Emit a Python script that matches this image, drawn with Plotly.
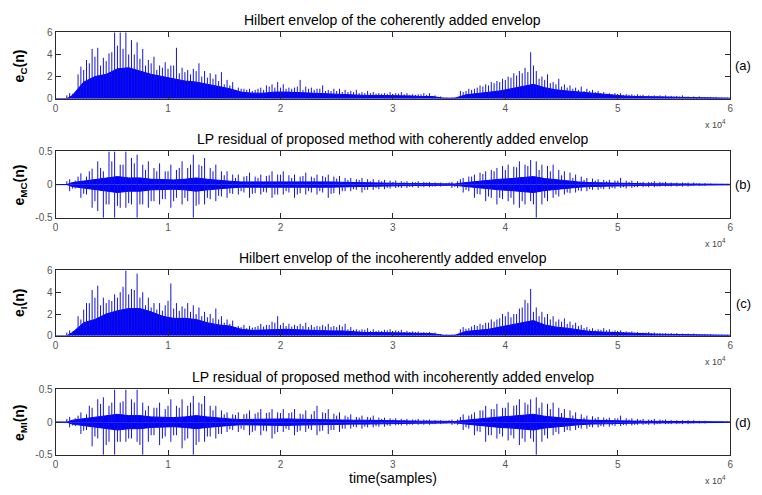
import plotly.graph_objects as go
import numpy as np

# ---------------- data ----------------
# sample axis: one body value per 1000 samples, two main + two secondary spikes per 1000 samples
N_SAMPLES = 60000
body_t = np.arange(500, 60000, 1000)          # centres of 1000-sample blocks
spike_t = np.arange(250, 60000, 500)          # main spikes
sec_t = np.arange(0, 60000, 500)              # secondary spikes

# (a) Hilbert envelope, coherent
peak_a = [0, 0, 0.5, 0.6, 2.9, 3.5, 4.5, 4.6, 3.7, 4.1, 6.0, 6.0, 6.0, 5.3, 5.1, 4.5,
          3.5, 3.8, 3.0, 3.3, 3.0, 4.6, 2.8, 2.6, 2.7, 3.2, 2.5, 2.3, 2.2, 2.4, 1.7, 1.5,
          1.0, 0.9, 0.9, 0.8, 1.0, 1.2, 1.3, 1.5, 1.3, 1.0, 1.0, 1.7, 1.1, 1.0, 0.9, 1.2,
          0.8, 0.9, 0.9, 0.8, 0.7, 0.8, 0.6, 0.7, 0.6, 0.5, 0.5, 0.6, 0.5, 0.6, 0.5, 0.4,
          0.4, 0.5, 0.5, 0.3, 0.2, 0.1, 0.1, 0.1, 0.6, 0.9, 0.9, 1.2, 1.3, 1.5, 1.6, 1.8,
          2.0, 2.3, 2.5, 2.8, 4.2, 2.5, 2.0, 2.2, 1.5, 1.8, 1.3, 1.2, 1.0, 1.1, 0.9, 0.8,
          0.7, 0.6, 0.5, 0.5, 0.5, 0.4, 0.4, 0.4, 0.35, 0.3, 0.3, 0.3, 0.3, 0.25, 0.25, 0.3,
          0.2, 0.2, 0.2, 0.15, 0.15, 0.15, 0.1, 0.1]
sec_a = [0, 0, 0.3, 0.45, 2.2, 2.6, 3.2, 3.8, 3.0, 3.4, 4.2, 4.8, 4.5, 4.0, 4.0, 3.6,
         3.0, 3.2, 2.6, 2.8, 2.7, 3.0, 2.3, 2.4, 2.2, 2.5, 2.0, 1.9, 1.8, 1.6, 1.3, 1.2,
         0.8, 0.9, 0.8, 0.7, 0.9, 0.8, 1.1, 1.0, 1.0, 0.9, 0.9, 1.1, 0.8, 0.9, 0.8, 0.9,
         0.7, 0.7, 0.7, 0.6, 0.6, 0.6, 0.5, 0.5, 0.5, 0.45, 0.45, 0.45, 0.4, 0.45, 0.4, 0.35,
         0.35, 0.4, 0.35, 0.25, 0.1, 0.1, 0.05, 0.1, 0.7, 0.7, 0.8, 1.0, 1.1, 1.2, 1.4, 1.5,
         1.7, 1.9, 2.1, 2.3, 2.4, 3.0, 1.8, 1.7, 1.4, 1.3, 1.1, 1.0, 0.9, 0.8, 0.7, 0.7,
         0.6, 0.5, 0.45, 0.4, 0.4, 0.35, 0.35, 0.3, 0.3, 0.25, 0.25, 0.25, 0.22, 0.2, 0.2, 0.2,
         0.18, 0.15, 0.15, 0.12, 0.12, 0.1, 0.08, 0.08]
body_a = [0, 0.3, 1.5, 2.0, 2.2, 2.7, 2.8, 2.5, 2.2, 2.0, 1.8, 1.6, 1.5, 1.3, 1.1, 0.9,
          0.6, 0.5, 0.5, 0.6, 0.6, 0.55, 0.5, 0.45, 0.4, 0.4, 0.35, 0.3, 0.3, 0.3, 0.25, 0.25,
          0.2, 0.2, 0.05, 0.05, 0.35, 0.45, 0.6, 0.7, 0.9, 1.1, 1.3, 1.0, 0.8, 0.7, 0.6, 0.5,
          0.4, 0.3, 0.25, 0.2, 0.2, 0.15, 0.15, 0.12, 0.1, 0.1, 0.08, 0.05]

# (b) LP residual, coherent
pos_b = [0, 0, 0.08, 0.06, 0.17, 0.12, 0.24, 0.35, 0.2, 0.5, 0.5, 0.3, 0.5, 0.4, 0.45, 0.3,
         0.35, 0.25, 0.32, 0.2, 0.3, 0.22, 0.35, 0.25, 0.45, 0.3, 0.4, 0.25, 0.3, 0.2, 0.2, 0.15,
         0.15, 0.12, 0.18, 0.12, 0.15, 0.13, 0.2, 0.15, 0.2, 0.14, 0.15, 0.12, 0.18, 0.12, 0.15, 0.13,
         0.15, 0.12, 0.13, 0.1, 0.1, 0.08, 0.1, 0.08, 0.08, 0.07, 0.07, 0.06, 0.06, 0.05, 0.05, 0.04,
         0.05, 0.04, 0.04, 0.03, 0.03, 0.02, 0.04, 0.05, 0.1, 0.12, 0.15, 0.18, 0.2, 0.22, 0.25, 0.28,
         0.3, 0.27, 0.35, 0.3, 0.37, 0.35, 0.3, 0.28, 0.3, 0.22, 0.2, 0.18, 0.15, 0.12, 0.1, 0.09,
         0.08, 0.07, 0.07, 0.06, 0.1, 0.06, 0.06, 0.05, 0.04, 0.04, 0.05, 0.04, 0.04, 0.03, 0.03, 0.03,
         0.03, 0.03, 0.02, 0.02, 0.015, 0.01, 0.01, 0.01]
neg_b = [0, 0, -0.1, -0.06, -0.2, -0.15, -0.35, -0.4, -0.5, -0.3, -0.5, -0.35, -0.35, -0.3, -0.5, -0.3,
         -0.35, -0.25, -0.3, -0.22, -0.35, -0.2, -0.3, -0.25, -0.5, -0.3, -0.3, -0.22, -0.25, -0.18, -0.2, -0.14,
         -0.15, -0.12, -0.2, -0.13, -0.15, -0.12, -0.2, -0.15, -0.15, -0.12, -0.2, -0.13, -0.15, -0.12, -0.15, -0.12,
         -0.2, -0.13, -0.15, -0.1, -0.1, -0.08, -0.12, -0.08, -0.08, -0.07, -0.07, -0.06, -0.05, -0.05, -0.05, -0.04,
         -0.05, -0.04, -0.04, -0.03, -0.03, -0.02, -0.05, -0.05, -0.12, -0.1, -0.2, -0.15, -0.25, -0.2, -0.3, -0.22,
         -0.25, -0.3, -0.35, -0.3, -0.25, -0.5, -0.3, -0.25, -0.2, -0.18, -0.15, -0.13, -0.12, -0.1, -0.1, -0.08,
         -0.08, -0.07, -0.07, -0.06, -0.05, -0.06, -0.05, -0.04, -0.04, -0.04, -0.04, -0.03, -0.03, -0.03, -0.03, -0.03,
         -0.03, -0.02, -0.02, -0.02, -0.01, -0.01, -0.01, -0.01]
sec_b = [0, 0, 0.05, -0.06, 0.12, -0.14, 0.2, -0.25, 0.25, -0.3, 0.35, -0.32, 0.3, -0.28, 0.32, -0.3,
         0.22, -0.25, 0.2, -0.22, 0.2, -0.25, 0.25, -0.2, 0.3, -0.32, 0.28, -0.2, 0.2, -0.17, 0.14, -0.13,
         0.1, -0.1, 0.13, -0.14, 0.1, -0.11, 0.14, -0.15, 0.15, -0.1, 0.1, -0.15, 0.13, -0.1, 0.1, -0.1,
         0.11, -0.14, 0.09, -0.1, 0.07, -0.07, 0.07, -0.08, 0.05, -0.05, 0.05, -0.05, 0.04, -0.04, 0.035, -0.035,
         0.035, -0.03, 0.03, -0.03, 0.02, -0.02, 0.03, -0.035, 0.08, -0.08, 0.12, -0.14, 0.16, -0.18, 0.2, -0.2,
         0.22, -0.2, 0.26, -0.25, 0.28, -0.3, 0.22, -0.2, 0.2, -0.15, 0.14, -0.12, 0.1, -0.09, 0.07, -0.07,
         0.06, -0.06, 0.05, -0.05, 0.06, -0.04, 0.04, -0.04, 0.03, -0.03, 0.035, -0.03, 0.03, -0.025, 0.02, -0.02,
         0.02, -0.02, 0.015, -0.015, 0.01, -0.01, 0.008, -0.008]
body_b = [0, 0.03, 0.05, 0.07, 0.1, 0.12, 0.1, 0.1, 0.08, 0.07, 0.07, 0.08, 0.1, 0.08, 0.06, 0.05,
          0.04, 0.04, 0.04, 0.05, 0.05, 0.04, 0.04, 0.04, 0.04, 0.035, 0.03, 0.03, 0.025, 0.02, 0.02, 0.015,
          0.015, 0.015, 0.01, 0.01, 0.03, 0.05, 0.06, 0.08, 0.09, 0.1, 0.12, 0.09, 0.07, 0.05, 0.04, 0.03,
          0.025, 0.02, 0.02, 0.015, 0.012, 0.012, 0.01, 0.008, 0.008, 0.006, 0.005, 0.004]

# (c) Hilbert envelope, incoherent
peak_c = [0, 0, 0.5, 0.4, 1.5, 3.0, 4.2, 4.6, 3.5, 3.3, 3.8, 4.0, 6.0, 4.3, 5.7, 4.0,
          3.5, 3.0, 3.0, 2.8, 4.8, 3.0, 2.7, 3.0, 2.8, 2.6, 2.2, 2.0, 2.5, 1.8, 1.5, 1.4,
          0.9, 1.0, 0.9, 0.8, 1.1, 1.0, 1.3, 1.8, 1.2, 1.1, 1.0, 1.1, 1.2, 1.0, 0.9, 1.0,
          1.1, 0.9, 1.0, 1.1, 0.8, 0.6, 0.6, 0.7, 0.6, 0.5, 0.55, 0.6, 0.5, 0.55, 0.45, 0.4,
          0.4, 0.35, 0.35, 0.3, 0.15, 0.1, 0.1, 0.1, 0.8, 0.7, 1.0, 1.1, 1.2, 1.5, 1.5, 2.0,
          2.2, 2.0, 2.5, 3.3, 4.3, 2.6, 2.2, 2.0, 1.8, 1.5, 1.6, 1.3, 1.2, 1.0, 0.8, 0.7,
          0.6, 0.7, 0.6, 0.5, 0.5, 0.4, 0.4, 0.35, 0.3, 0.35, 0.3, 0.25, 0.25, 0.25, 0.25, 0.2,
          0.2, 0.2, 0.15, 0.15, 0.15, 0.1, 0.1, 0.1]
sec_c = [0, 0, 0.3, 0.4, 1.8, 2.4, 3.0, 3.5, 2.8, 3.0, 3.2, 3.5, 4.5, 3.8, 4.2, 3.5,
         2.8, 2.6, 2.4, 2.3, 3.2, 2.5, 2.3, 2.5, 2.2, 2.0, 1.8, 1.7, 1.6, 1.5, 1.2, 1.1,
         0.8, 0.8, 0.7, 0.75, 0.9, 0.85, 1.0, 1.2, 1.0, 0.9, 0.85, 0.9, 0.9, 0.8, 0.8, 0.85,
         0.85, 0.8, 0.8, 0.85, 0.6, 0.55, 0.5, 0.55, 0.45, 0.45, 0.45, 0.5, 0.4, 0.45, 0.35, 0.35,
         0.35, 0.3, 0.3, 0.25, 0.1, 0.08, 0.08, 0.1, 0.6, 0.65, 0.85, 0.9, 1.0, 1.2, 1.3, 1.6,
         1.8, 1.7, 2.0, 2.6, 3.0, 2.2, 1.8, 1.7, 1.5, 1.3, 1.3, 1.1, 1.0, 0.9, 0.7, 0.6,
         0.5, 0.55, 0.5, 0.4, 0.4, 0.35, 0.35, 0.3, 0.28, 0.3, 0.25, 0.22, 0.22, 0.2, 0.2, 0.18,
         0.17, 0.16, 0.13, 0.12, 0.12, 0.09, 0.08, 0.08]
body_c = [0, 0.3, 1.2, 1.5, 2.0, 2.3, 2.5, 2.5, 2.2, 1.8, 1.6, 1.6, 1.5, 1.2, 1.0, 0.9,
          0.6, 0.5, 0.55, 0.6, 0.6, 0.55, 0.5, 0.45, 0.45, 0.45, 0.35, 0.3, 0.3, 0.3, 0.28, 0.25,
          0.22, 0.2, 0.05, 0.05, 0.4, 0.5, 0.6, 0.8, 1.0, 1.2, 1.4, 1.0, 0.8, 0.7, 0.55, 0.4,
          0.35, 0.3, 0.25, 0.2, 0.18, 0.15, 0.13, 0.12, 0.1, 0.08, 0.07, 0.05]

# (d) LP residual, incoherent
pos_d = [0, 0, 0.08, 0.06, 0.15, 0.12, 0.22, 0.35, 0.38, 0.25, 0.5, 0.3, 0.5, 0.35, 0.5, 0.3,
         0.25, 0.22, 0.3, 0.2, 0.35, 0.25, 0.35, 0.25, 0.4, 0.3, 0.4, 0.25, 0.25, 0.18, 0.15, 0.12,
         0.15, 0.12, 0.18, 0.13, 0.2, 0.14, 0.2, 0.15, 0.2, 0.14, 0.2, 0.13, 0.18, 0.12, 0.25, 0.15,
         0.2, 0.13, 0.15, 0.1, 0.12, 0.08, 0.1, 0.08, 0.1, 0.07, 0.07, 0.06, 0.06, 0.05, 0.05, 0.04,
         0.05, 0.04, 0.04, 0.03, 0.03, 0.02, 0.04, 0.04, 0.12, 0.1, 0.15, 0.18, 0.25, 0.2, 0.28, 0.22,
         0.3, 0.25, 0.35, 0.3, 0.35, 0.38, 0.3, 0.28, 0.3, 0.22, 0.2, 0.18, 0.15, 0.12, 0.1, 0.09,
         0.08, 0.07, 0.07, 0.06, 0.1, 0.06, 0.06, 0.05, 0.05, 0.04, 0.05, 0.04, 0.04, 0.03, 0.03, 0.03,
         0.03, 0.03, 0.02, 0.02, 0.01, 0.01, 0.01, 0.01]
neg_d = [0, 0, -0.08, -0.06, -0.18, -0.12, -0.37, -0.25, -0.5, -0.3, -0.5, -0.3, -0.3, -0.25, -0.3, -0.5,
         -0.3, -0.2, -0.35, -0.22, -0.3, -0.2, -0.4, -0.25, -0.5, -0.3, -0.3, -0.22, -0.25, -0.18, -0.15, -0.12,
         -0.15, -0.12, -0.2, -0.13, -0.2, -0.14, -0.25, -0.15, -0.15, -0.12, -0.2, -0.13, -0.15, -0.12, -0.2, -0.13,
         -0.18, -0.12, -0.15, -0.1, -0.1, -0.08, -0.1, -0.08, -0.08, -0.07, -0.07, -0.06, -0.05, -0.05, -0.05, -0.04,
         -0.04, -0.04, -0.04, -0.03, -0.03, -0.02, -0.04, -0.04, -0.12, -0.1, -0.2, -0.15, -0.3, -0.2, -0.25, -0.22,
         -0.28, -0.25, -0.35, -0.3, -0.25, -0.5, -0.3, -0.25, -0.2, -0.18, -0.15, -0.13, -0.12, -0.1, -0.1, -0.08,
         -0.08, -0.07, -0.07, -0.06, -0.06, -0.05, -0.05, -0.04, -0.04, -0.04, -0.04, -0.03, -0.03, -0.03, -0.03, -0.03,
         -0.03, -0.02, -0.02, -0.02, -0.01, -0.01, -0.01, -0.01]
sec_d = [0, 0, 0.05, -0.05, 0.1, -0.13, 0.25, -0.22, 0.28, -0.35, 0.3, -0.3, 0.32, -0.25, 0.3, -0.35,
         0.18, -0.2, 0.22, -0.25, 0.25, -0.2, 0.22, -0.28, 0.3, -0.35, 0.28, -0.22, 0.18, -0.18, 0.12, -0.11,
         0.11, -0.1, 0.13, -0.15, 0.15, -0.13, 0.15, -0.18, 0.14, -0.1, 0.15, -0.15, 0.12, -0.1, 0.17, -0.14,
         0.14, -0.12, 0.1, -0.1, 0.08, -0.07, 0.07, -0.07, 0.07, -0.06, 0.05, -0.05, 0.04, -0.04, 0.035, -0.035,
         0.035, -0.03, 0.03, -0.03, 0.02, -0.02, 0.03, -0.03, 0.08, -0.08, 0.12, -0.14, 0.18, -0.2, 0.2, -0.18,
         0.22, -0.2, 0.26, -0.25, 0.27, -0.3, 0.22, -0.2, 0.2, -0.15, 0.14, -0.12, 0.1, -0.09, 0.07, -0.07,
         0.06, -0.06, 0.05, -0.05, 0.06, -0.045, 0.04, -0.04, 0.035, -0.03, 0.035, -0.03, 0.03, -0.025, 0.02, -0.02,
         0.02, -0.02, 0.015, -0.015, 0.01, -0.01, 0.008, -0.008]
body_d = [0, 0.03, 0.05, 0.07, 0.1, 0.12, 0.1, 0.1, 0.08, 0.07, 0.07, 0.08, 0.1, 0.08, 0.06, 0.05,
          0.04, 0.045, 0.045, 0.05, 0.05, 0.045, 0.04, 0.045, 0.04, 0.035, 0.03, 0.03, 0.025, 0.02, 0.02, 0.015,
          0.015, 0.015, 0.01, 0.01, 0.03, 0.05, 0.06, 0.08, 0.09, 0.1, 0.12, 0.09, 0.07, 0.05, 0.04, 0.03,
          0.025, 0.02, 0.02, 0.015, 0.012, 0.012, 0.01, 0.008, 0.008, 0.006, 0.005, 0.004]

titles = ["Hilbert envelop of the coherently added envelop",
          "LP residual of proposed method with coherently added envelop",
          "Hilbert envelop of the incoherently added envelop",
          "LP residual of proposed method with incoherently added envelop"]
ylabels = ["<b>e<sub>C</sub>(n)</b>", "<b>e<sub>MC</sub>(n)</b>",
           "<b>e<sub>I</sub>(n)</b>", "<b>e<sub>MI</sub>(n)</b>"]
panel_tags = ["(a)", "(b)", "(c)", "(d)"]
xtick_vals = [0, 10000, 20000, 30000, 40000, 50000, 60000]
xtick_text = ["0", "1", "2", "3", "4", "5", "6"]

# ---------------- layout geometry ----------------
W, H = 762, 495
x_dom = [53 / W, 733 / W]
panels_px = [(27, 95), (149, 217), (271, 338), (393, 460)]   # top, bottom in px
y_doms = [[1 - b / H, 1 - t / H] for t, b in panels_px]

BLUE = "#0000ff"
SPIKE = "#1414d8"
AX = "#2a2a2a"

fig = go.Figure()


def spikes(t, lo, hi):
    xs, ys = [], []
    for ti, l, h in zip(t, lo, hi):
        xs += [ti, ti, None]
        ys += [l, h, None]
    return xs, ys


def body_trace(i, body, sign=1):
    bx = np.concatenate([[0, 1000], body_t[1:], [N_SAMPLES]])
    by = sign * np.concatenate([[0, 0], body[1:], [body[-1]]])
    fig.add_trace(go.Scatter(x=bx, y=by, mode="lines", fill="tozeroy",
                             fillcolor=BLUE, line=dict(color=BLUE, width=1),
                             xaxis=f"x{i+1}", yaxis=f"y{i+1}",
                             showlegend=False, hoverinfo="skip"))


def spike_trace(i, t, lo, hi):
    sx, sy = spikes(t, lo, hi)
    fig.add_trace(go.Scatter(x=sx, y=sy, mode="lines", line=dict(color=SPIKE, width=1),
                             xaxis=f"x{i+1}", yaxis=f"y{i+1}",
                             showlegend=False, hoverinfo="skip"))


def add_env(i, peaks, sec, body):
    body_trace(i, body)
    spike_trace(i, sec_t, [0] * len(sec), sec)
    spike_trace(i, spike_t, [0] * len(peaks), peaks)


def add_res(i, pos, neg, sec, body):
    body_trace(i, body, 1)
    body_trace(i, body, -1)
    spike_trace(i, sec_t, [0] * len(sec), sec)
    spike_trace(i, spike_t, neg, pos)


add_env(0, peak_a, sec_a, body_a)
add_res(1, pos_b, neg_b, sec_b, body_b)
add_env(2, peak_c, sec_c, body_c)
add_res(3, pos_d, neg_d, sec_d, body_d)

layout = dict(width=W, height=H, margin=dict(l=0, r=0, t=0, b=0),
              paper_bgcolor="white", plot_bgcolor="white",
              font=dict(family="Liberation Sans, Arial, sans-serif", color="#000"))

for i in range(4):
    is_env = i in (0, 2)
    xk = "xaxis" if i == 0 else f"xaxis{i+1}"
    yk = "yaxis" if i == 0 else f"yaxis{i+1}"
    layout[xk] = dict(domain=x_dom, anchor=f"y{i+1}", range=[0, N_SAMPLES],
                      tickvals=xtick_vals, ticktext=xtick_text,
                      ticks="inside", ticklen=5, tickcolor=AX, tickwidth=1,
                      showline=True, linecolor=AX, linewidth=1, mirror="ticks",
                      showgrid=False, zeroline=False,
                      tickfont=dict(size=10, color="#555"))
    if is_env:
        ydict = dict(range=[0, 6], tickvals=[0, 2, 4, 6], ticktext=["0", "2", "4", "6"])
    else:
        ydict = dict(range=[-0.5, 0.5], tickvals=[-0.5, 0, 0.5], ticktext=["-0.5", "0", "0.5"])
    layout[yk] = dict(domain=y_doms[i], anchor=f"x{i+1}",
                      ticks="inside", ticklen=5, tickcolor=AX, tickwidth=1,
                      showline=True, linecolor=AX, linewidth=1, mirror="ticks",
                      showgrid=False, zeroline=False,
                      tickfont=dict(size=10, color="#555"), **ydict)

fig.update_layout(**layout)

anns = []
xc = (x_dom[0] + x_dom[1]) / 2
for i, (t, b) in enumerate(panels_px):
    anns.append(dict(text=titles[i], x=xc, y=1 - (t - 13) / H, xref="paper", yref="paper",
                     xanchor="center", yanchor="middle", showarrow=False,
                     font=dict(size=14, color="#000")))
    anns.append(dict(text=ylabels[i], x=17 / W, y=1 - ((t + b) / 2) / H, xref="paper",
                     yref="paper", xanchor="center", yanchor="middle", showarrow=False,
                     textangle=-90, font=dict(size=14, color="#000")))
    anns.append(dict(text=panel_tags[i], x=746 / W, y=1 - ((t + b) / 2) / H, xref="paper",
                     yref="paper", xanchor="center", yanchor="middle", showarrow=False,
                     font=dict(size=13, color="#000")))
    anns.append(dict(text="x 10<sup>4</sup>", x=731 / W, y=1 - (b + 26) / H, xref="paper",
                     yref="paper", xanchor="right", yanchor="middle", showarrow=False,
                     font=dict(size=9, color="#444")))
anns.append(dict(text="time(samples)", x=xc, y=1 - 484 / H, xref="paper", yref="paper",
                 xanchor="center", yanchor="middle", showarrow=False,
                 font=dict(size=14, color="#000")))
fig.update_layout(annotations=anns)

fig.write_html("out.html")
